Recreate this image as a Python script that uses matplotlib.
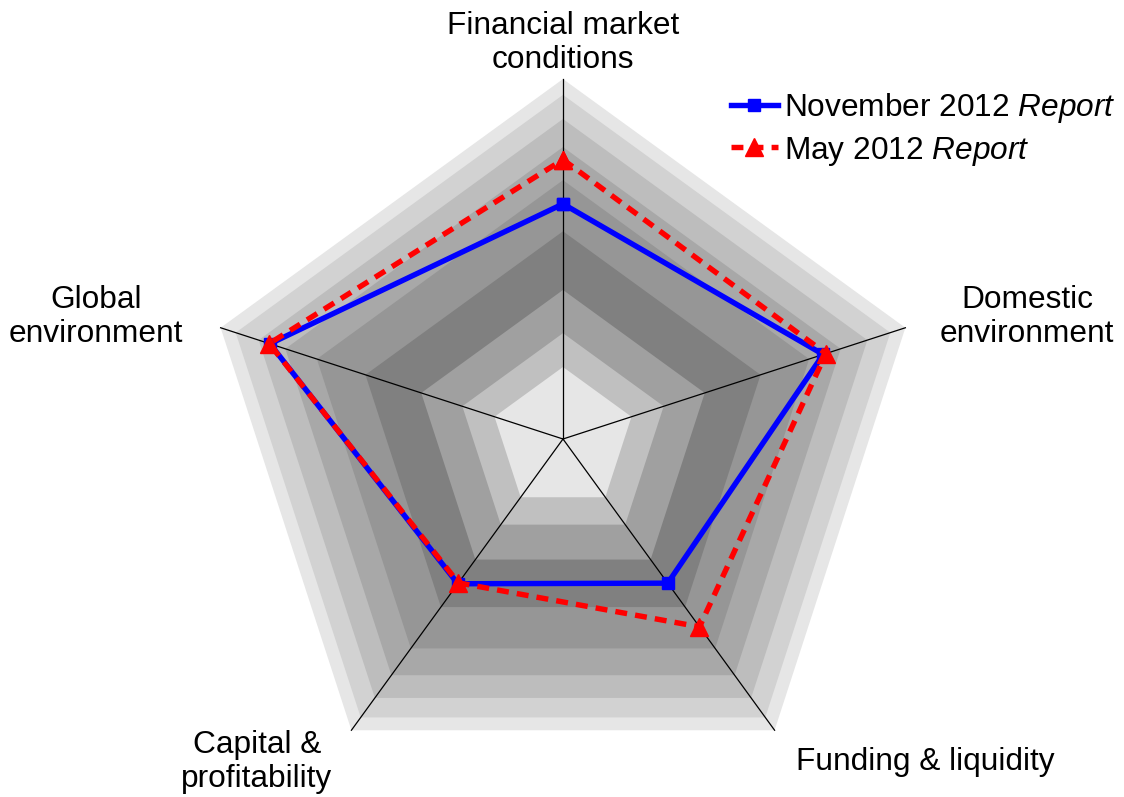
import numpy as np
import matplotlib
matplotlib.use("Agg")
import matplotlib.pyplot as plt

plt.rcParams['font.family'] = ['Liberation Sans', 'DejaVu Sans']
plt.rcParams['mathtext.fontset'] = 'custom'
plt.rcParams['mathtext.rm'] = 'Liberation Sans'
plt.rcParams['mathtext.it'] = 'Liberation Sans:italic'

# ---- data ----
categories = ["Financial market\nconditions", "Domestic\nenvironment",
              "Funding & liquidity", "Capital &\nprofitability",
              "Global\nenvironment"]
nov_2012 = [0.653, 0.760, 0.495, 0.497, 0.856]
may_2012 = [0.776, 0.768, 0.645, 0.494, 0.858]
series_labels = [r"November 2012 $\it{Report}$", r"May 2012 $\it{Report}$"]
band_levels = [1.0, 0.956, 0.889, 0.811, 0.719, 0.577, 0.414, 0.294, 0.2]
band_colors = ["#e6e6e6", "#d2d2d2", "#bdbdbd", "#a8a8a8", "#969696",
               "#808080", "#a0a0a0", "#c0c0c0", "#e6e6e6"]

# ---- layout ----
W, H = 1124, 797
cx, cy, R = 563, 439, 360
fig = plt.figure(figsize=(W / 100, H / 100), dpi=100)
ax = fig.add_axes([0, 0, 1, 1])
ax.set_xlim(-cx / R, (W - cx) / R)
ax.set_ylim(-(H - cy) / R, cy / R)
ax.axis('off')

n = len(categories)
theta = np.deg2rad(90 - 72 * np.arange(n))

def xy(vals):
    v = np.asarray(vals)
    return v * np.cos(theta), v * np.sin(theta)

# bands
for lev, col in zip(band_levels, band_colors):
    x, y = xy([lev] * n)
    ax.fill(x, y, color=col, lw=0, zorder=1)

# spokes
for t in theta:
    ax.plot([0, np.cos(t)], [0, np.sin(t)], color='black', lw=0.9, zorder=2)

# series
x, y = xy(nov_2012)
ax.plot(np.append(x, x[0]), np.append(y, y[0]), color='#0000ff', lw=3.9,
        marker='s', ms=9, zorder=3, label=series_labels[0])
x, y = xy(may_2012)
ax.plot(np.append(x, x[0]), np.append(y, y[0]), color='#ff0000', lw=3.9,
        ls=(0, (2.2, 1.5)), marker='^', ms=13, zorder=4, label=series_labels[1])

# category labels
label_pos = [(563, 43), (1027, 317), (925, 762), (257, 762), (96, 317)]
for lab, (px, py) in zip(categories, label_pos):
    ax.text((px - cx) / R, (cy - py) / R, lab, ha='center', va='center',
            fontsize=22.8, linespacing=1.15, color='black')

leg = ax.legend(loc='upper left', bbox_to_anchor=(731 / W, 1 - 91 / H),
                frameon=False, fontsize=22.8, handlelength=1.48,
                handletextpad=0.18, labelspacing=0.3, borderaxespad=0,
                borderpad=0)

fig.savefig("out.png", dpi=100)
